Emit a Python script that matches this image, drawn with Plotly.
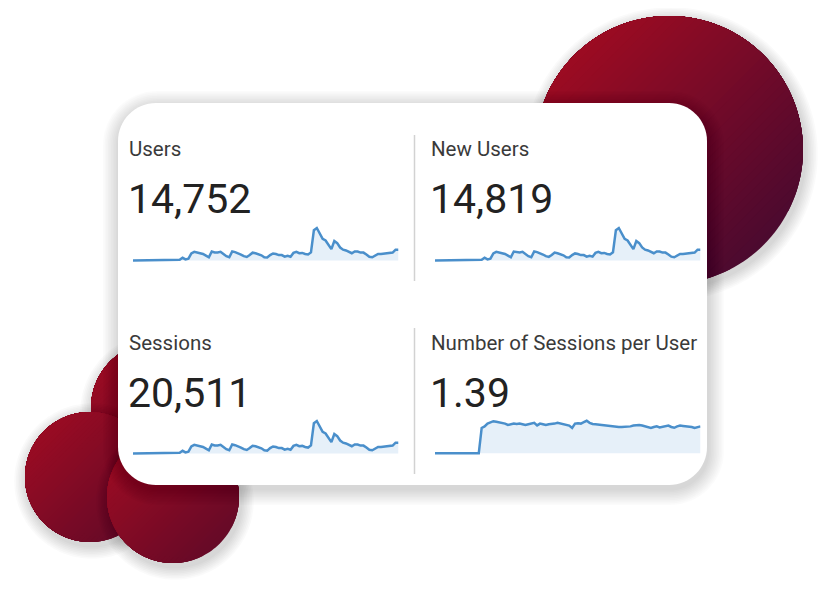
import numpy as np
import plotly.graph_objects as go

# ---------------- data ----------------
metric_labels = ["Users", "New Users", "Sessions", "Number of Sessions per User"]
metric_totals = ["14,752", "14,819", "20,511", "1.39"]

days = list(range(92))

users = [0] * 16 + [14, 60, 24, 41, 156, 192, 180, 168, 144, 108,
                    72, 199, 180, 180, 192, 144, 96, 72, 199, 185,
                    163, 132, 96, 79, 120, 173, 161, 144, 115, 72,
                    65, 120, 156, 144, 120, 120, 84, 103, 84, 168,
                    192, 161, 168, 144, 132, 180, 672, 720, 600, 480,
                    444, 336, 252, 432, 384, 288, 240, 223, 199, 161,
                    199, 199, 175, 175, 132, 84, 72, 108, 144, 144,
                    149, 161, 161, 175, 240, 240]

new_users = [0] * 16 + [15, 62, 25, 40, 158, 193, 181, 167, 146, 109,
                        73, 200, 182, 179, 193, 146, 97, 73, 201, 186,
                        164, 133, 97, 80, 121, 175, 162, 146, 116, 73,
                        66, 121, 158, 145, 121, 121, 85, 104, 85, 170,
                        193, 163, 169, 146, 133, 182, 676, 724, 604, 483,
                        447, 338, 254, 435, 386, 290, 242, 224, 200, 162,
                        200, 201, 176, 176, 133, 85, 73, 109, 145, 146,
                        150, 162, 163, 176, 242, 241]

sessions = [0] * 16 + [20, 83, 33, 57, 217, 267, 250, 234, 200, 150,
                       100, 277, 250, 250, 267, 200, 133, 100, 277, 257,
                       227, 183, 133, 110, 167, 240, 224, 200, 160, 100,
                       90, 167, 217, 200, 167, 167, 117, 143, 117, 234,
                       267, 224, 234, 200, 183, 250, 934, 1001, 834, 667,
                       617, 467, 350, 600, 534, 400, 334, 310, 277, 224,
                       277, 277, 243, 243, 183, 117, 100, 150, 200, 200,
                       207, 224, 224, 243, 334, 334]

sessions_per_user = [0] * 16 + [1.27, 1.35, 1.49, 1.56, 1.61, 1.58, 1.56, 1.53, 1.49, 1.42,
                                1.47, 1.49, 1.47, 1.49, 1.46, 1.42, 1.46, 1.49, 1.53, 1.40,
                                1.49, 1.46, 1.42, 1.46, 1.47, 1.49, 1.53, 1.49, 1.47, 1.44,
                                1.39, 1.27, 1.49, 1.51, 1.49, 1.56, 1.63, 1.53, 1.47, 1.46,
                                1.44, 1.42, 1.39, 1.37, 1.35, 1.35, 1.34, 1.32, 1.32, 1.32,
                                1.32, 1.35, 1.39, 1.40, 1.42, 1.39, 1.35, 1.34, 1.27, 1.32,
                                1.35, 1.30, 1.32, 1.35, 1.39, 1.32, 1.28, 1.35, 1.39, 1.37,
                                1.35, 1.35, 1.32, 1.27, 1.32, 1.35]

series = [users, new_users, sessions, sessions_per_user]

# ---------------- layout helpers (screen pixel -> paper) ----------------
# the page body has an 8px default margin, so the figure is placed at (8, 8)
OFF = 8
W, H = 828 - OFF, 598 - OFF


def X(v):
    return (v - OFF) / W


def Y(v):
    return 1 - (v - OFF) / H


def P(x, y):
    return f"{X(x):.5f},{Y(y):.5f}"


def hex2rgb(h):
    h = h.lstrip("#")
    return tuple(int(h[i:i + 2], 16) for i in (0, 2, 4))


def lerp_col(c0, c1, f):
    a, b = hex2rgb(c0), hex2rgb(c1)
    return "rgb(%d,%d,%d)" % tuple(round(a[i] + (b[i] - a[i]) * f) for i in range(3))


def circle_path(cx, cy, r, n=160):
    th = np.linspace(0, 2 * np.pi, n, endpoint=False)
    pts = [P(cx + r * np.cos(t), cy + r * np.sin(t)) for t in th]
    return "M " + " L ".join(pts) + " Z"


def rrect_path(x0, y0, x1, y1, r):
    k = 0.5523 * r
    return (f"M {P(x0 + r, y0)} L {P(x1 - r, y0)} "
            f"C {P(x1 - r + k, y0)} {P(x1, y0 + r - k)} {P(x1, y0 + r)} "
            f"L {P(x1, y1 - r)} "
            f"C {P(x1, y1 - r + k)} {P(x1 - r + k, y1)} {P(x1 - r, y1)} "
            f"L {P(x0 + r, y1)} "
            f"C {P(x0 + r - k, y1)} {P(x0, y1 - r + k)} {P(x0, y1 - r)} "
            f"L {P(x0, y0 + r)} "
            f"C {P(x0, y0 + r - k)} {P(x0 + r - k, y0)} {P(x0 + r, y0)} Z")


shapes = []


def add_path(path, color):
    shapes.append(dict(type="path", path=path, xref="paper", yref="paper",
                       fillcolor=color, line=dict(width=0), layer="below"))


def shadow_circle(cx, cy, r, dx=2, dy=4, steps=8, alpha=0.018):
    for j in range(steps, 0, -1):
        add_path(circle_path(cx + dx, cy + dy, r + j * 1.6), f"rgba(0,0,0,{alpha})")


def grad_circle(cx, cy, r, c0, c1, N=40):
    for k in range(N - 1, -1, -1):
        t = -r + 2 * r * (k + 1) / N
        col = lerp_col(c0, c1, (k + 0.5) / N)
        if k == N - 1:
            add_path(circle_path(cx, cy, r), col)
            continue
        a = np.arccos(np.clip(t / r, -1, 1))
        th = np.linspace(np.pi / 4 + a, np.pi / 4 + 2 * np.pi - a, 140)
        pts = [P(cx + r * np.cos(v), cy + r * np.sin(v)) for v in th]
        add_path("M " + " L ".join(pts) + " Z", col)


# decorative circles
big = (669, 150, 134)
small_c = (157, 408, 66)
small_a = (90, 477, 65)
small_b = (173, 497, 66)

shadow_circle(*big)
grad_circle(*big, "#9c0b22", "#4b0a2f")
for c in (small_c, small_a, small_b):
    shadow_circle(*c)
    grad_circle(*c, "#990b23", "#660a27")

# card with soft shadow
card = (118, 103, 707, 485, 38)
for j in range(10, 0, -1):
    e = j * 1.6
    add_path(rrect_path(card[0] - e + 1, card[1] - e + 4, card[2] + e + 1, card[3] + e + 4, card[4] + e),
             "rgba(0,0,0,0.015)")
add_path(rrect_path(*card), "#ffffff")

# dividers
for (ya, yb) in [(135, 281), (328, 474)]:
    shapes.append(dict(type="line", xref="paper", yref="paper", x0=X(414.5), x1=X(414.5),
                       y0=Y(ya), y1=Y(yb), line=dict(color="#d2d2d2", width=1.5), layer="below"))

# ---------------- sparklines ----------------
panels = [  # (x left, x right, baseline y px)
    (133, 398.5, 260.5),
    (435, 700.5, 260.5),
    (133, 398.5, 453.5),
    (435, 700.5, 453.3),
]
line_col = "#4a8fcb"
fill_col = "#e6f0f9"
plot_h = 32.5

fig = go.Figure()
layout_axes = {}
for i, (vals, (xl, xr, yb)) in enumerate(zip(series, panels)):
    n = "" if i == 0 else str(i + 1)
    fig.add_trace(go.Scatter(x=days, y=vals, mode="lines",
                             line=dict(color=line_col, width=2.5, shape="linear"),
                             fill="tozeroy", fillcolor=fill_col,
                             hoverinfo="skip", showlegend=False,
                             xaxis="x" + n, yaxis="y" + n))
    mx = max(vals)
    pp = mx / plot_h
    layout_axes["xaxis" + n] = dict(domain=[X(xl), X(xr)], range=[days[0], days[-1]],
                                    visible=False, anchor="y" + n, fixedrange=True)
    layout_axes["yaxis" + n] = dict(domain=[Y(yb + 2.5), Y(yb - plot_h - 2)],
                                    range=[-2.5 * pp, mx + 2 * pp],
                                    visible=False, anchor="x" + n, fixedrange=True)

# ---------------- text ----------------
label_pos = [(127, 149), (429, 149), (127, 343), (429, 343)]
value_pos = [(126, 199), (428, 199), (126, 393), (428, 393)]
annotations = []
for lab, tot, (lx, ly), (vx, vy) in zip(metric_labels, metric_totals, label_pos, value_pos):
    annotations.append(dict(text=lab, x=X(lx), y=Y(ly), xref="paper", yref="paper",
                            xanchor="left", yanchor="middle", showarrow=False,
                            font=dict(family="Roboto", size=20.5, color="#3a3a3a")))
    annotations.append(dict(text=tot, x=X(vx), y=Y(vy), xref="paper", yref="paper",
                            xanchor="left", yanchor="middle", showarrow=False,
                            font=dict(family="Roboto", size=41, color="#222222")))

fig.update_layout(
    width=W, height=H,
    margin=dict(l=0, r=0, t=0, b=0),
    paper_bgcolor="#ffffff", plot_bgcolor="rgba(0,0,0,0)",
    shapes=shapes, annotations=annotations,
    showlegend=False,
    **layout_axes,
)

fig.write_html("out.html", config={"displayModeBar": False})
